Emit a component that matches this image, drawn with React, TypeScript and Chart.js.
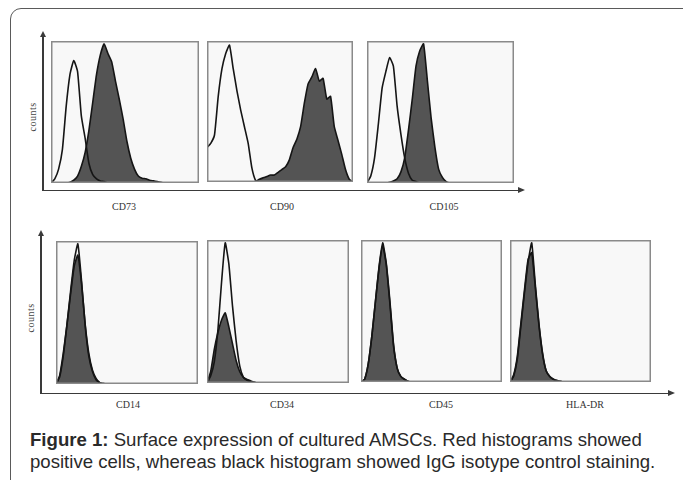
import React, { useEffect, useRef } from "react";
import Chart from "chart.js/auto";

// channel index (40 bins across each histogram panel)
const CHANNELS = Array.from({ length: 40 }, (_, i) => String(i));

// Row 1 – positive markers
const CD73_ISO = [0, 3, 10, 24, 55, 78, 88, 80, 48, 32, 14, 6, 3, 1.5, 1, 0, 0, 0, 0, 0, 0, 0, 0, 0, 0, 0, 0, 0, 0, 0, 0, 0, 0, 0, 0, 0, 0, 0, 0, 0];
const CD73_POS = [0, 0, 0, 0, 0, 0.5, 2, 5, 12, 22, 38, 58, 78, 92, 100, 93, 87, 73, 60, 46, 30, 18, 10, 5, 3.5, 3, 2, 1.5, 1, 0.5, 0, 0, 0, 0, 0, 0, 0, 0, 0, 0];
const CD90_ISO = [25, 28, 34, 62, 82, 93, 99, 82, 66, 52, 40, 28, 10, 1, 0, 0, 0, 0, 0, 0, 0, 0, 0, 0, 0, 0, 0, 0, 0, 0, 0, 0, 0, 0, 0, 0, 0, 0, 0, 0];
const CD90_POS = [0, 0, 0, 0, 0, 0, 0, 0, 0, 0, 0, 0, 0, 0.5, 2, 3, 4, 5, 5, 7, 9, 11, 16, 25, 31, 40, 57, 71, 76, 82, 73, 75, 60, 62, 40, 30, 20, 9, 2, 0];
const CD105_ISO = [0, 5, 18, 42, 68, 80, 90, 84, 55, 35, 18, 7, 2, 1, 0, 0, 0, 0, 0, 0, 0, 0, 0, 0, 0, 0, 0, 0, 0, 0, 0, 0, 0, 0, 0, 0, 0, 0, 0, 0];
const CD105_POS = [0, 0, 0, 0, 0, 0, 0.5, 1.5, 3, 8, 18, 38, 60, 84, 95, 100, 74, 47, 26, 10, 4, 1, 0, 0, 0, 0, 0, 0, 0, 0, 0, 0, 0, 0, 0, 0, 0, 0, 0, 0];

// Row 2 – negative markers
const CD14_ISO = [0, 5, 20, 42, 66, 88, 100, 74, 42, 20, 9, 3, 1, 0, 0, 0, 0, 0, 0, 0, 0, 0, 0, 0, 0, 0, 0, 0, 0, 0, 0, 0, 0, 0, 0, 0, 0, 0, 0, 0];
const CD14_POS = [0, 6, 22, 42, 64, 84, 92, 72, 43, 22, 10, 4, 1, 0.5, 0, 0, 0, 0, 0, 0, 0, 0, 0, 0, 0, 0, 0, 0, 0, 0, 0, 0, 0, 0, 0, 0, 0, 0, 0, 0];
const CD34_ISO = [0, 5, 15, 38, 72, 100, 85, 55, 30, 12, 4, 2, 1, 0.5, 0, 0, 0, 0, 0, 0, 0, 0, 0, 0, 0, 0, 0, 0, 0, 0, 0, 0, 0, 0, 0, 0, 0, 0, 0, 0];
const CD34_POS = [0, 8, 24, 36, 45, 50, 40, 28, 16, 8, 4, 2.5, 1.5, 0.5, 0, 0, 0, 0, 0, 0, 0, 0, 0, 0, 0, 0, 0, 0, 0, 0, 0, 0, 0, 0, 0, 0, 0, 0, 0, 0];
const CD45_ISO = [0, 2, 13, 33, 58, 83, 100, 85, 58, 27, 10, 4, 2, 0.5, 0, 0, 0, 0, 0, 0, 0, 0, 0, 0, 0, 0, 0, 0, 0, 0, 0, 0, 0, 0, 0, 0, 0, 0, 0, 0];
const CD45_POS = [0, 2, 13, 33, 58, 82, 98, 84, 56, 26, 10, 4, 2, 0.5, 0, 0, 0, 0, 0, 0, 0, 0, 0, 0, 0, 0, 0, 0, 0, 0, 0, 0, 0, 0, 0, 0, 0, 0, 0, 0];
const HLADR_ISO = [0, 4, 16, 40, 64, 86, 100, 70, 42, 21, 8, 4, 2, 1, 0.5, 0, 0, 0, 0, 0, 0, 0, 0, 0, 0, 0, 0, 0, 0, 0, 0, 0, 0, 0, 0, 0, 0, 0, 0, 0];
const HLADR_POS = [0, 5, 18, 42, 66, 88, 93, 68, 41, 20, 8, 4, 2, 1, 0.5, 0, 0, 0, 0, 0, 0, 0, 0, 0, 0, 0, 0, 0, 0, 0, 0, 0, 0, 0, 0, 0, 0, 0, 0, 0];

const MARKERS = ["CD73", "CD90", "CD105", "CD14", "CD34", "CD45", "HLA-DR"];
const Y_TITLE = "counts";
const CAPTION_BOLD = "Figure 1:";
const CAPTION_LINE1 = " Surface expression of cultured AMSCs. Red histograms showed";
const CAPTION_LINE2 = "positive cells, whereas black histogram showed IgG isotype control staining.";

const panelFrame = {
  id: "panelFrame",
  beforeDraw(chart: any) {
    const { ctx, chartArea: a } = chart;
    ctx.save();
    ctx.fillStyle = "#f8f8f8";
    ctx.fillRect(a.left, a.top, a.right - a.left, a.bottom - a.top);
    ctx.restore();
  },
  afterDraw(chart: any) {
    const { ctx, chartArea: a } = chart;
    ctx.save();
    ctx.strokeStyle = "#8a8a8a";
    ctx.lineWidth = 1.5;
    ctx.strokeRect(a.left + 0.75, a.top + 0.75, a.right - a.left - 1.5, a.bottom - a.top - 1.5);
    ctx.restore();
  },
};

function Panel({ left, top, width, height, iso, pos }: any) {
  const ref = useRef<HTMLCanvasElement>(null);
  useEffect(() => {
    const chart = new Chart(ref.current!, {
      type: "line",
      data: {
        labels: CHANNELS,
        datasets: [
          {
            data: iso,
            borderColor: "#151515",
            borderWidth: 1.6,
            fill: false,
            pointRadius: 0,
            tension: 0.15,
          },
          {
            data: pos,
            borderColor: "#151515",
            borderWidth: 1.6,
            backgroundColor: "#545454",
            fill: "origin",
            pointRadius: 0,
            tension: 0.15,
          },
        ],
      },
      options: {
        responsive: false,
        animation: false,
        layout: { padding: 0 },
        plugins: { legend: { display: false }, tooltip: { enabled: false } },
        scales: {
          x: { display: false, offset: false },
          y: { display: false, min: 0, max: 102 },
        },
      },
      plugins: [panelFrame],
    });
    return () => chart.destroy();
  }, []);
  return (
    <canvas
      ref={ref}
      width={width}
      height={height}
      style={{ position: "absolute", left, top, width, height }}
    />
  );
}

const abs = (s: any) => ({ position: "absolute" as const, ...s });

function Label({ x, y, text }: any) {
  return (
    <div
      style={abs({
        left: x - 40,
        top: y - 7,
        width: 80,
        textAlign: "center",
        font: "10px 'Liberation Serif', serif",
        color: "#333",
        lineHeight: "14px",
      })}
    >
      {text}
    </div>
  );
}

function Counts({ x, y }: any) {
  return (
    <div
      style={abs({
        left: x - 30,
        top: y - 7,
        width: 60,
        textAlign: "center",
        font: "10px 'Liberation Serif', serif",
        color: "#444",
        lineHeight: "14px",
        transform: "rotate(-90deg)",
        letterSpacing: "0.5px",
      })}
    >
      {Y_TITLE}
    </div>
  );
}

function Axes({ x, yTop, yAxis, xRight }: any) {
  const c = "#3a3a3a";
  return (
    <>
      <div style={abs({ left: x, top: yTop + 4, width: 1.5, height: yAxis - yTop - 4, background: c })} />
      <div style={abs({ left: x, top: yAxis, width: xRight - x - 4, height: 1.5, background: c })} />
      <div
        style={abs({
          left: x - 2.25,
          top: yTop,
          width: 0,
          height: 0,
          borderLeft: "3px solid transparent",
          borderRight: "3px solid transparent",
          borderBottom: "6px solid " + c,
        })}
      />
      <div
        style={abs({
          left: xRight - 6,
          top: yAxis - 2.25,
          width: 0,
          height: 0,
          borderTop: "3px solid transparent",
          borderBottom: "3px solid transparent",
          borderLeft: "7px solid " + c,
        })}
      />
    </>
  );
}

export default function App() {
  return (
    <div
      style={{
        position: "fixed",
        left: 0,
        top: 0,
        width: 683,
        height: 480,
        overflow: "hidden",
        background: "#fff",
      }}
    >
      <div
        style={abs({
          left: 10,
          top: 8,
          width: 690,
          height: 500,
          border: "1.5px solid #5a5a5a",
          borderRadius: 11,
          boxSizing: "border-box",
        })}
      />
      <Axes x={42} yTop={31} yAxis={189.5} xRight={524} />
      <Axes x={40} yTop={230} yAxis={392.5} xRight={674} />

      <Panel left={51} top={41} width={148} height={142} iso={CD73_ISO} pos={CD73_POS} />
      <Panel left={207} top={41} width={146} height={141} iso={CD90_ISO} pos={CD90_POS} />
      <Panel left={367} top={41} width={147} height={142} iso={CD105_ISO} pos={CD105_POS} />

      <Panel left={56} top={241} width={142} height={143} iso={CD14_ISO} pos={CD14_POS} />
      <Panel left={207} top={240} width={142} height={143} iso={CD34_ISO} pos={CD34_POS} />
      <Panel left={361} top={240} width={141} height={142} iso={CD45_ISO} pos={CD45_POS} />
      <Panel left={510} top={240} width={141} height={142} iso={HLADR_ISO} pos={HLADR_POS} />

      <Label x={124} y={207} text={MARKERS[0]} />
      <Label x={282} y={207} text={MARKERS[1]} />
      <Label x={444} y={207} text={MARKERS[2]} />
      <Label x={128} y={405} text={MARKERS[3]} />
      <Label x={282} y={405} text={MARKERS[4]} />
      <Label x={441} y={405} text={MARKERS[5]} />
      <Label x={585} y={405} text={MARKERS[6]} />

      <Counts x={33} y={117} />
      <Counts x={31} y={318} />

      <div
        style={abs({
          left: 30,
          top: 429,
          font: "18.6px 'Liberation Sans', Arial, sans-serif",
          color: "#2a2a2a",
          lineHeight: "22px",
          whiteSpace: "nowrap",
        })}
      >
        <div>
          <b>{CAPTION_BOLD}</b>
          {CAPTION_LINE1}
        </div>
        <div>{CAPTION_LINE2}</div>
      </div>
    </div>
  );
}
